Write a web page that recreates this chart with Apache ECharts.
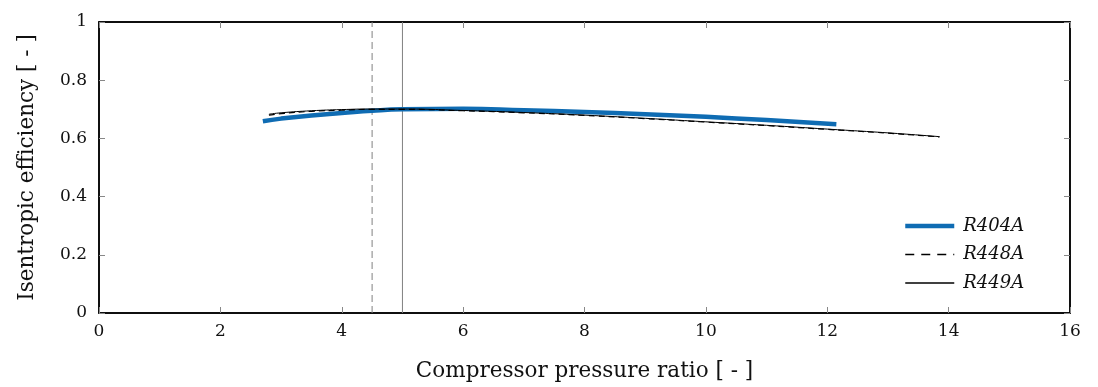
<!DOCTYPE html>
<html>
<head>
<meta charset="utf-8">
<script src="https://cdn.jsdelivr.net/npm/echarts@6/dist/echarts.min.js"></script>
<style>
html,body{margin:0;padding:0;background:#fff;}
#chart{width:1098px;height:387px;}
</style>
</head>
<body>
<div id="chart"></div>
<script>
const r404aX = [2.7, 3.0, 3.5, 4.0, 4.5, 5.0, 6.0, 7.0, 8.0, 9.0, 10.0, 11.0, 12.15];
const r404aY = [0.659, 0.668, 0.679, 0.687, 0.695, 0.700, 0.702, 0.697, 0.691, 0.683, 0.674, 0.663, 0.649];
const r448aX = [2.8, 3.0, 3.5, 4.0, 4.5, 5.0, 6.0, 7.0, 8.0, 9.0, 10.0, 11.0, 12.0, 13.0, 13.85];
const r448aY = [0.680, 0.685, 0.693, 0.697, 0.700, 0.700, 0.695, 0.688, 0.679, 0.668, 0.656, 0.644, 0.631, 0.618, 0.605];
const r449aX = [2.8, 3.0, 3.5, 4.0, 4.5, 5.0, 6.0, 7.0, 8.0, 9.0, 10.0, 11.0, 12.0, 13.0, 13.85];
const r449aY = [0.683, 0.688, 0.695, 0.699, 0.701, 0.701, 0.696, 0.689, 0.680, 0.669, 0.657, 0.645, 0.632, 0.619, 0.606];
const dashedRefX = [4.5, 4.5];
const solidRefX = [5, 5];
const refY = [0, 1];
const xTicks = [0, 2, 4, 6, 8, 10, 12, 14, 16];
const yTicks = [0, 0.2, 0.4, 0.6, 0.8, 1];

const zip = (xs, ys) => xs.map((x, i) => [x, ys[i]]);
const serif = '"DejaVu Serif", "Liberation Serif", serif';
const blue = '#0f6cb3';

const mkTick = () => ({ show: true, inside: true, length: 6, lineStyle: { color: '#888', width: 1 } });
const chart = echarts.init(document.getElementById('chart'));
chart.setOption({
  animation: false,
  grid: { left: 99, right: 28, top: 22, bottom: 74, show: true, borderColor: '#000', borderWidth: 1.5, backgroundColor: 'transparent' },
  legend: {
    orient: 'vertical',
    left: 898,
    top: 212,
    itemWidth: 49,
    itemHeight: 14,
    itemGap: 10.5,
    itemStyle: { opacity: 0 },
    data: [
      { name: 'R404A', lineStyle: { width: 4.5, color: blue } },
      { name: 'R448A', lineStyle: { width: 1.3, color: '#000', type: [9, 7] } },
      { name: 'R449A', lineStyle: { width: 1.3, color: '#000' } }
    ],
    textStyle: { fontFamily: serif, fontStyle: 'italic', fontSize: 18, color: '#111', padding: [0, 0, 0, 4] }
  },
  xAxis: [{
    type: 'value', min: 0, max: 16, interval: 2,
    name: 'Compressor pressure ratio [ - ]', nameLocation: 'middle', nameGap: 47,
    nameTextStyle: { fontFamily: serif, fontSize: 21.5, color: '#111' },
    axisLine: { show: true, onZero: false, lineStyle: { color: '#000', width: 1.5 } },
    axisTick: mkTick(),
    axisLabel: { fontFamily: serif, fontSize: 17, color: '#111', margin: 10 },
    splitLine: { show: false }
  }, {
    type: 'value', position: 'top', min: 0, max: 16, interval: 2,
    axisLine: { show: true, onZero: false, lineStyle: { color: '#000', width: 1.5 } },
    axisTick: mkTick(), axisLabel: { show: false }, splitLine: { show: false }
  }],
  yAxis: [{
    type: 'value', min: 0, max: 1, interval: 0.2,
    name: 'Isentropic efficiency [ - ]', nameLocation: 'middle', nameGap: 61,
    nameTextStyle: { fontFamily: serif, fontSize: 21.5, color: '#111' },
    axisLine: { show: true, onZero: false, lineStyle: { color: '#000', width: 1.5 } },
    axisTick: mkTick(),
    axisLabel: { fontFamily: serif, fontSize: 17, color: '#111', margin: 12,
      formatter: v => (v === 0 || v === 1) ? String(v) : v.toFixed(1) },
    splitLine: { show: false }
  }, {
    type: 'value', position: 'right', min: 0, max: 1, interval: 0.2,
    axisLine: { show: true, onZero: false, lineStyle: { color: '#000', width: 1.5 } },
    axisTick: mkTick(), axisLabel: { show: false }, splitLine: { show: false }
  }],
  series: [
    { name: 'ref45', type: 'line', data: zip(dashedRefX, refY), symbol: 'none', silent: true,
      xAxisIndex: 1, yAxisIndex: 1,
      lineStyle: { color: '#808080', width: 1, type: [7, 4] }, z: 1 },
    { name: 'ref5', type: 'line', data: zip(solidRefX, refY), symbol: 'none', silent: true,
      xAxisIndex: 1, yAxisIndex: 1,
      lineStyle: { color: '#808080', width: 1 }, z: 1 },
    { name: 'R449A', type: 'line', data: zip(r449aX, r449aY), symbol: 'none', smooth: true,
      lineStyle: { color: '#000', width: 1 }, itemStyle: { color: '#000' }, z: 3 },
    { name: 'R448A', type: 'line', data: zip(r448aX, r448aY), symbol: 'none', smooth: true,
      lineStyle: { color: '#000', width: 1.2, type: [6, 4] }, itemStyle: { color: '#000' }, z: 4 },
    { name: 'R404A', type: 'line', data: zip(r404aX, r404aY), symbol: 'none', smooth: true,
      lineStyle: { color: blue, width: 4.5 }, itemStyle: { color: blue }, z: 2 }
  ]
});
</script>
</body>
</html>
